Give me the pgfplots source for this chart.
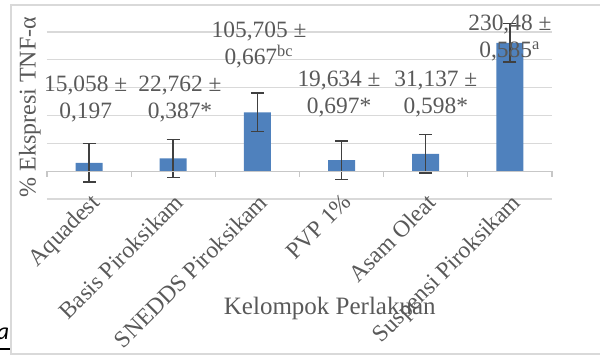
\documentclass[border=0pt]{standalone}
\usepackage{pgfplots}
\pgfplotsset{compat=1.18}
\usepackage{fontspec}
\setmainfont{Liberation Serif}
\newfontfamily\carlito{Carlito}
\definecolor{barblue}{HTML}{4F81BD}
\definecolor{errgray}{HTML}{404040}
\definecolor{txtgray}{HTML}{595959}
\definecolor{gridgray}{HTML}{D9D9D9}
\definecolor{framegray}{HTML}{D9D9D9}
\begin{document}
\begin{tikzpicture}
\useasboundingbox (-23.5pt,-78.5pt) rectangle (276.5pt,99.5pt);
\draw[framegray, line width=0.7pt] (-18pt,97pt) rectangle (285pt,-77.5pt);
\node[anchor=base east, font=\carlito\itshape\fontsize{12}{14}\selectfont, inner sep=0pt] at (-18.7pt,-70.5pt) {ka};
\draw[black, line width=1pt] (-30pt,-75pt) -- (-18.7pt,-75pt);
\begin{axis}[
  at={(0,0)}, anchor=south west,
  scale only axis, width=252.5pt, height=83.5pt,
  xmin=-0.5, xmax=5.5, ymin=-50, ymax=250,
  axis line style={draw=none},
  ytick={-50,0,50,100,150,200,250}, yticklabels={},
  ymajorgrids, grid style={gridgray, line width=0.6pt},
  major tick length=0pt,
  xtick={0,1,2,3,4,5},
  xticklabels={Aquadest, Basis Piroksikam, SNEDDS Piroksikam, PVP 1\%, Asam Oleat, Suspensi Piroksikam},
  xticklabel style={rotate=45, anchor=north east, inner sep=0pt, xshift=2.5pt, yshift=2.5pt,
    font=\fontsize{11.8}{13}\selectfont, text=txtgray},
  ylabel={\% Ekspresi TNF-α},
  ylabel style={at={(axis description cs:-0.034,0.55)}, anchor=center, font=\fontsize{12}{14}\selectfont, text=txtgray},
  xlabel={Kelompok Perlakuan},
  xlabel style={at={(axis description cs:0.56,-0.653)}, anchor=center, font=\fontsize{12.5}{14}\selectfont, text=txtgray},
  clip=false,
]
\addplot[ybar, bar width=13.5pt, fill=barblue, draw=none,
  error bars/.cd, y dir=both, y explicit,
  error bar style={errgray, line width=0.75pt},
  error mark options={errgray, rotate=90, mark size=3.25pt, line width=0.75pt}]
  coordinates {
  (0,15.058) +- (0,34.5)
  (1,22.762) +- (0,34.5)
  (2,105.705) +- (0,34.5)
  (3,19.634) +- (0,34.5)
  (4,31.137) +- (0,34.5)
  (5,230.48) +- (0,34.5)
  };
% category boundary ticks on the zero line
\draw[gridgray!80!gray, line width=0.6pt] (axis cs:-0.5,0) -- (axis cs:5.5,0);
\pgfplotsinvokeforeach{-0.5,0.5,1.5,2.5,3.5,4.5,5.5}{
  \draw[gridgray!80!gray, line width=0.6pt] (axis cs:#1,0) -- ([yshift=-3pt]axis cs:#1,0);
}
% data labels
\begin{scope}[every node/.style={align=center, text=txtgray, font=\fontsize{11.7}{13.5}\selectfont, inner sep=0pt}]
\node at (axis cs:-0.04,129.5) {15,058 ±\\0,197};
\node at (axis cs:1.08,129.5) {22,762 ±\\0,387*};
\node at (axis cs:2.02,225.9) {105,705 ±\\0,667\textsuperscript{bc}};
\node at (axis cs:2.97,138.4) {19,634 ±\\0,697*};
\node at (axis cs:4.12,138.4) {31,137 ±\\0,598*};
\node at (axis cs:5.0,238.4) {230,48 ±\\0,585\textsuperscript{a}};
\end{scope}
\end{axis}
\end{tikzpicture}
\end{document}
